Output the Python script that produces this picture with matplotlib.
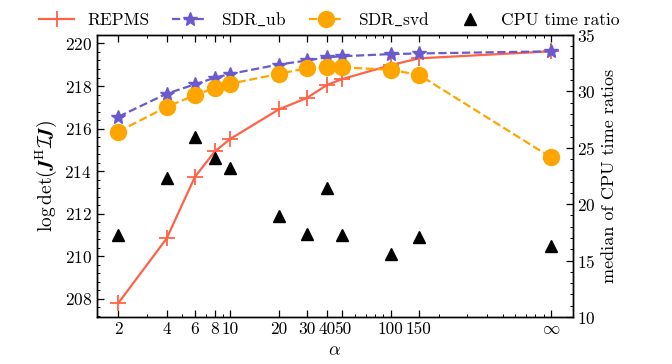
import matplotlib
matplotlib.use("Agg")
import matplotlib.pyplot as plt
from matplotlib.ticker import FixedLocator, FixedFormatter, AutoMinorLocator, LogLocator, NullFormatter

plt.rcParams['font.family'] = 'serif'
plt.rcParams['font.serif'] = ['cmr10', 'DejaVu Serif']
plt.rcParams['mathtext.fontset'] = 'cm'
plt.rcParams['axes.formatter.use_mathtext'] = True
plt.rcParams['font.size'] = 12.5

alpha_vals = [2, 4, 6, 8, 10, 20, 30, 40, 50, 100, 150, 1000]
alpha_labels = ['2', '4', '6', '8', '10', '20', '30', '40', '50', '100', '150', r'$\infty$']
repms = [207.81, 210.84, 213.73, 214.93, 215.52, 216.90, 217.44, 218.05, 218.33, 218.98, 219.30, 219.63]
sdr_ub = [216.56, 217.64, 218.08, 218.39, 218.57, 219.01, 219.20, 219.35, 219.40, 219.50, 219.53, 219.63]
sdr_svd = [215.86, 217.02, 217.57, 217.91, 218.11, 218.57, 218.84, 218.88, 218.88, 218.76, 218.53, 214.65]
cpu_ratio = [17.27, 22.35, 25.98, 24.07, 23.24, 18.95, 17.33, 21.41, 17.27, 15.59, 17.12, 16.29]

fig = plt.figure(figsize=(6.72, 3.64), dpi=100)
ax = fig.add_axes([0.144, 0.129, 0.708, 0.775])
ax2 = ax.twinx()

l1, = ax.plot(alpha_vals, repms, '-', color='#FF6347', marker='+', ms=11, mew=1.3, lw=1.6, label='REPMS')
l2, = ax.plot(alpha_vals, sdr_ub, '--', color='#6A5ACD', marker='*', ms=10.5, lw=1.6, label='SDR_ub')
l3, = ax.plot(alpha_vals, sdr_svd, '--', color='#FFA500', marker='o', ms=11.5, lw=1.6, label='SDR_svd')
l4, = ax2.plot(alpha_vals, cpu_ratio, '^', color='black', ms=8.5, ls='none', label='CPU time ratio')

ax.set_xscale('log')
ax.xaxis.set_major_locator(FixedLocator(alpha_vals))
ax.xaxis.set_major_formatter(FixedFormatter(alpha_labels))
ax.xaxis.set_minor_locator(LogLocator(base=10, subs=range(2, 10), numticks=20))
ax.xaxis.set_minor_formatter(NullFormatter())

ax.set_ylim(207.15, 220.4)
ax.set_yticks([208, 210, 212, 214, 216, 218, 220])
ax.yaxis.set_minor_locator(AutoMinorLocator(5))
ax2.set_ylim(10, 35)
ax2.set_yticks([10, 15, 20, 25, 30, 35])
ax2.yaxis.set_minor_locator(AutoMinorLocator(5))

for a in (ax, ax2):
    a.tick_params(which='major', direction='in', length=5, width=0.9)
    a.tick_params(which='minor', direction='in', length=2.5, width=0.7)
    for s in a.spines.values():
        s.set_linewidth(1.0)
ax.tick_params(which='both', top=True, right=False)
ax2.tick_params(which='both', right=True, left=False)

ax.set_xlabel(r'$\alpha$', fontsize=13)
ax.set_ylabel(r'$\log\det(\mathbfit{J}^{\mathrm{H}}\mathcal{I}\mathbfit{J})$', fontsize=14)
ax2.set_ylabel('median of CPU time ratios', fontsize=13)

fig.legend(handles=[l1, l2, l3, l4], labels=['REPMS', r'SDR$\_$ub', r'SDR$\_$svd', 'CPU time ratio'],
           loc='upper center', bbox_to_anchor=(0.49, 1.0), ncol=4, frameon=False, fontsize=12.5,
           handlelength=2.0, columnspacing=1.3, borderaxespad=0.2)

fig.savefig('out.png', dpi=100)
